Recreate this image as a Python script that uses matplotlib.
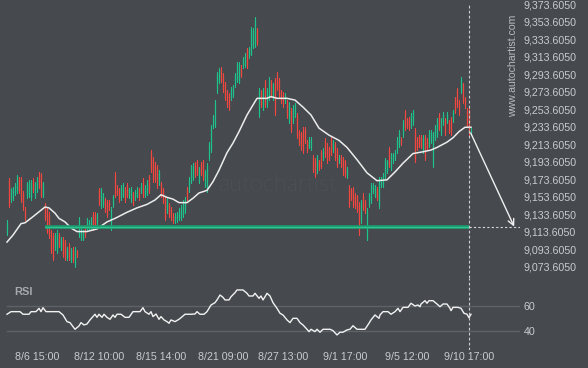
import matplotlib
matplotlib.use("Agg")
import matplotlib.pyplot as plt
from matplotlib.patches import FancyBboxPatch

plt.rcParams['font.family'] = ['Liberation Sans', 'DejaVu Sans']

# ---------------- data ----------------
opens = [9112, 9173, 9150, 9152, 9158, 9160, 9174, 9174, 9158, 9140, 9154, 9155, 9152, 9173, 9154, 9161, 9180, 9179, 9155, 9145,
         9140, 9134, 9114, 9110, 9095, 9092, 9110, 9095, 9106, 9102, 9084, 9099, 9081, 9094, 9076, 9091, 9110, 9106, 9106, 9120,
         9118, 9118, 9118, 9134, 9134, 9124, 9162, 9143, 9144, 9150, 9148, 9148, 9118, 9144, 9180, 9165, 9162, 9152, 9155, 9163,
         9167, 9154, 9150, 9157, 9152, 9155, 9162, 9160, 9173, 9155, 9158, 9177, 9205, 9197, 9191, 9188, 9169, 9169, 9162, 9151,
         9137, 9145, 9140, 9133, 9126, 9127, 9129, 9129, 9133, 9137, 9163, 9161, 9171, 9175, 9191, 9194, 9171, 9191, 9194, 9167,
         9161, 9198, 9207, 9234, 9235, 9274, 9286, 9300, 9293, 9283, 9274, 9270, 9266, 9270, 9281, 9287, 9285, 9302, 9303, 9304,
         9321, 9314, 9317, 9325, 9327, 9344, 9247, 9274, 9255, 9285, 9258, 9266, 9285, 9266, 9287, 9294, 9287, 9274, 9271, 9263,
         9262, 9240, 9253, 9240, 9247, 9247, 9228, 9226, 9231, 9231, 9217, 9211, 9209, 9199, 9196, 9183, 9194, 9205, 9198, 9219,
         9213, 9208, 9220, 9207, 9214, 9207, 9194, 9199, 9197, 9194, 9177, 9165, 9162, 9163, 9156, 9154, 9146, 9126, 9156, 9148,
         9106, 9144, 9149, 9160, 9155, 9163, 9143, 9167, 9167, 9177, 9183, 9208, 9186, 9194, 9198, 9206, 9212, 9220, 9224, 9251,
         9242, 9243, 9234, 9238, 9230, 9220, 9222, 9222, 9206, 9222, 9219, 9212, 9217, 9190, 9220, 9224, 9247, 9226, 9238, 9242,
         9240, 9239, 9243, 9241, 9266, 9276, 9262, 9274, 9282, 9266, 9253, 9253, 9226]
highs = [9127, 9175, 9164, 9165, 9169, 9179, 9176, 9176, 9160, 9142, 9171, 9173, 9173, 9175, 9171, 9176, 9182, 9181, 9171, 9147,
         9142, 9136, 9116, 9112, 9112, 9116, 9112, 9108, 9108, 9104, 9096, 9101, 9095, 9096, 9096, 9093, 9131, 9118, 9116, 9122,
         9130, 9127, 9131, 9136, 9136, 9135, 9164, 9164, 9158, 9152, 9150, 9150, 9142, 9156, 9182, 9167, 9164, 9167, 9169, 9165,
         9169, 9164, 9165, 9159, 9161, 9165, 9164, 9169, 9175, 9167, 9173, 9179, 9207, 9199, 9193, 9190, 9184, 9171, 9164, 9153,
         9152, 9147, 9142, 9135, 9135, 9136, 9141, 9144, 9150, 9153, 9165, 9176, 9190, 9192, 9193, 9196, 9188, 9193, 9196, 9184,
         9192, 9216, 9236, 9247, 9264, 9296, 9301, 9302, 9295, 9285, 9276, 9272, 9279, 9281, 9295, 9307, 9307, 9304, 9313, 9318,
         9323, 9325, 9347, 9346, 9359, 9346, 9278, 9276, 9278, 9287, 9278, 9290, 9287, 9284, 9289, 9296, 9289, 9276, 9273, 9272,
         9264, 9262, 9255, 9258, 9261, 9249, 9230, 9228, 9233, 9233, 9219, 9222, 9222, 9201, 9198, 9201, 9196, 9207, 9209, 9221,
         9215, 9210, 9222, 9218, 9216, 9209, 9201, 9201, 9199, 9196, 9188, 9167, 9164, 9165, 9158, 9156, 9148, 9150, 9158, 9150,
         9141, 9158, 9169, 9169, 9167, 9165, 9176, 9176, 9181, 9198, 9196, 9210, 9204, 9204, 9207, 9222, 9230, 9222, 9241, 9253,
         9244, 9245, 9249, 9253, 9232, 9222, 9224, 9224, 9224, 9224, 9221, 9230, 9230, 9228, 9236, 9244, 9249, 9244, 9250, 9244,
         9250, 9241, 9245, 9253, 9268, 9278, 9264, 9290, 9284, 9268, 9255, 9255, 9232]
lows = [9110, 9142, 9148, 9150, 9156, 9158, 9158, 9148, 9139, 9127, 9152, 9153, 9150, 9159, 9152, 9159, 9164, 9153, 9153, 9127,
        9112, 9107, 9090, 9082, 9093, 9090, 9096, 9093, 9085, 9082, 9082, 9082, 9079, 9079, 9074, 9085, 9108, 9104, 9104, 9108,
        9116, 9116, 9116, 9116, 9119, 9122, 9144, 9141, 9142, 9136, 9131, 9139, 9116, 9142, 9153, 9156, 9148, 9150, 9153, 9148,
        9153, 9152, 9148, 9144, 9150, 9153, 9150, 9158, 9153, 9153, 9156, 9158, 9182, 9171, 9171, 9164, 9167, 9153, 9147, 9127,
        9135, 9131, 9127, 9124, 9124, 9125, 9127, 9127, 9131, 9135, 9150, 9159, 9169, 9173, 9176, 9179, 9169, 9179, 9173, 9165,
        9159, 9196, 9205, 9232, 9233, 9272, 9284, 9285, 9273, 9264, 9256, 9253, 9264, 9268, 9279, 9285, 9283, 9290, 9301, 9302,
        9301, 9312, 9315, 9323, 9325, 9327, 9245, 9256, 9253, 9256, 9256, 9264, 9268, 9264, 9247, 9276, 9268, 9261, 9256, 9261,
        9244, 9238, 9228, 9238, 9245, 9221, 9213, 9207, 9204, 9215, 9205, 9209, 9207, 9182, 9176, 9181, 9184, 9186, 9196, 9199,
        9192, 9196, 9201, 9205, 9196, 9188, 9192, 9188, 9179, 9176, 9175, 9142, 9150, 9142, 9141, 9136, 9110, 9124, 9139, 9135,
        9104, 9142, 9147, 9158, 9153, 9150, 9141, 9165, 9165, 9175, 9181, 9188, 9184, 9192, 9196, 9204, 9210, 9213, 9222, 9230,
        9232, 9230, 9232, 9236, 9193, 9207, 9210, 9209, 9204, 9196, 9207, 9210, 9215, 9188, 9218, 9222, 9230, 9224, 9236, 9224,
        9238, 9226, 9224, 9239, 9249, 9256, 9247, 9272, 9261, 9255, 9233, 9224, 9224]
closes = [9125, 9144, 9162, 9163, 9167, 9177, 9160, 9150, 9141, 9129, 9169, 9171, 9171, 9161, 9169, 9174, 9166, 9155, 9169, 9129,
          9114, 9109, 9092, 9084, 9110, 9114, 9098, 9106, 9087, 9084, 9094, 9084, 9093, 9081, 9094, 9087, 9129, 9116, 9114, 9110,
          9128, 9125, 9129, 9118, 9121, 9133, 9146, 9162, 9156, 9138, 9133, 9141, 9140, 9154, 9155, 9158, 9150, 9165, 9167, 9150,
          9155, 9162, 9163, 9146, 9159, 9163, 9152, 9167, 9155, 9165, 9171, 9160, 9184, 9173, 9173, 9166, 9182, 9155, 9149, 9129,
          9150, 9133, 9129, 9126, 9133, 9134, 9139, 9142, 9148, 9151, 9152, 9174, 9188, 9190, 9178, 9181, 9186, 9181, 9175, 9182,
          9190, 9214, 9234, 9245, 9262, 9294, 9299, 9287, 9275, 9266, 9258, 9255, 9277, 9279, 9293, 9305, 9305, 9292, 9311, 9316,
          9303, 9323, 9345, 9344, 9357, 9329, 9276, 9258, 9276, 9258, 9276, 9288, 9270, 9282, 9249, 9278, 9270, 9263, 9258, 9270,
          9246, 9260, 9230, 9256, 9259, 9223, 9215, 9209, 9206, 9217, 9207, 9220, 9220, 9184, 9178, 9199, 9186, 9188, 9207, 9201,
          9194, 9198, 9203, 9216, 9198, 9190, 9199, 9190, 9181, 9178, 9186, 9144, 9152, 9144, 9143, 9138, 9112, 9148, 9141, 9137,
          9139, 9156, 9167, 9167, 9165, 9152, 9174, 9174, 9179, 9196, 9194, 9190, 9202, 9202, 9205, 9220, 9228, 9215, 9239, 9232,
          9234, 9232, 9247, 9251, 9195, 9209, 9212, 9211, 9222, 9198, 9209, 9228, 9228, 9226, 9234, 9242, 9232, 9242, 9248, 9226,
          9248, 9228, 9226, 9251, 9251, 9258, 9249, 9288, 9263, 9257, 9235, 9226, 9230]

ma_idx = [0, 3, 7, 9, 13, 19, 21, 24, 26, 29, 32, 35, 40, 45, 50, 54, 60, 65, 70, 74, 77, 80, 83, 86, 90, 93, 96, 100,
          103, 106, 110, 113, 116, 120, 125, 130, 132, 135, 140, 144, 148, 152, 156, 161, 166, 170, 175, 180, 185, 190,
          194, 198, 203, 208, 212, 215, 220, 223, 226, 229, 232]
ma_vals = [9102, 9110, 9123, 9124, 9131, 9142, 9141, 9135, 9129, 9125, 9118, 9114, 9114, 9117, 9125, 9129, 9136, 9141,
           9145, 9150, 9156, 9153, 9151, 9147, 9147, 9152, 9158, 9161, 9171, 9184, 9204, 9215, 9228, 9247, 9266, 9266,
           9268, 9266, 9266, 9264, 9256, 9247, 9232, 9224, 9218, 9210, 9196, 9181, 9172, 9173, 9182, 9192, 9203, 9205,
           9207, 9210, 9216, 9221, 9228, 9233, 9233]

rsi_idx = [0, 2, 6.5, 8, 11, 12, 14.5, 16, 17, 18, 19.5, 26, 28, 30, 31.5, 33, 34, 36, 37, 38.5, 40, 41.5, 43, 44, 45, 46,
           47.5, 48.5, 50, 51.5, 53, 54, 55, 57, 59, 61, 63, 66.5, 68, 69, 71, 72, 73, 74.5, 76, 77, 78.5, 80, 81, 82, 84,
           86, 87, 89, 92, 94, 95, 96.5, 98.5, 100, 101, 102, 104, 105, 106.5, 108, 109, 111, 112, 114, 115, 118, 120,
           121, 123, 124, 126, 127, 128, 129, 130, 131.5, 133, 135, 136.5, 138, 140, 141.5, 143, 145, 146.5, 148, 150,
           151, 152, 154, 155, 156.5, 158, 161.5, 163, 165, 166.5, 168, 170, 171.5, 173, 175, 179, 181, 182, 184, 185,
           186, 186.5, 188, 190.5, 192, 194, 195.5, 196.5, 198, 200.5, 202, 204, 205.5, 206.5, 207, 209, 210, 211, 213,
           215, 216.5, 218, 220, 221.5, 222, 223, 225.5, 227, 228.5, 230, 231, 232]
rsi_vals = [53.3, 55.4, 55.4, 53.3, 53.3, 55.4, 55.4, 58.1, 55.4, 58.6, 55.4, 55.4, 52.7, 47.3, 46.5, 43.3, 41.1, 43.8,
            46.5, 44.6, 45.4, 48.7, 51.4, 53.3, 50.8, 53.3, 50.8, 53.3, 50.8, 49.2, 52.7, 50.8, 53.3, 53.3, 50.8, 50.8,
            55.4, 55.4, 58.6, 55.4, 53.3, 55.4, 51.4, 53.5, 49.2, 51.4, 48.7, 47.3, 46.0, 48.7, 47.3, 49.2, 50.5, 53.3,
            53.3, 53.5, 55.4, 53.3, 53.3, 55.4, 58.1, 60.8, 62.7, 64.9, 68.9, 67.0, 64.9, 64.9, 67.5, 70.8, 73.0, 73.0,
            70.3, 68.1, 68.1, 70.3, 66.2, 68.1, 64.9, 67.5, 70.3, 68.1, 62.7, 58.1, 54.1, 52.7, 48.7, 46.5, 50.0, 50.0,
            46.5, 44.6, 41.1, 39.2, 41.1, 39.2, 41.1, 38.7, 41.1, 41.1, 40.0, 36.5, 38.7, 38.7, 40.6, 41.1, 44.0, 41.1,
            41.1, 46.0, 48.7, 52.7, 51.4, 50.0, 52.7, 55.4, 55.4, 53.3, 55.4, 58.1, 55.4, 58.9, 58.9, 62.2, 60.0, 60.8,
            59.4, 61.6, 64.3, 62.2, 64.3, 64.3, 61.6, 59.4, 61.6, 61.6, 58.1, 56.2, 58.9, 58.9, 58.1, 54.1, 53.3, 50.5,
            53.3]

support_start, support_end = 19, 231
support_level = 9119.2
now_idx = 231
arrow_from = (231.85, 9226.5)
arrow_to = (253.6, 9119.6)

price_ticks = [9073.605 + 20 * k for k in range(16)]
rsi_ticks = [40, 60]
x_tick_idx = [15, 46, 77, 108, 138, 169, 200, 231]
x_tick_labels = ["8/6 15:00", "8/12 10:00", "8/15 14:00", "8/21 09:00",
                 "8/27 13:00", "9/1 17:00", "9/5 12:00", "9/10 17:00"]

# ---------------- styling ----------------
BG = '#46494d'
UP = '#1ec28b'
DN = '#f2473f'
TXT = '#c9cbce'
W, H = 588, 368

fig = plt.figure(figsize=(W / 100, H / 100), dpi=100, facecolor=BG)


def fx(px):
    return px / W


def fy(py):
    return 1 - py / H


ax = fig.add_axes([0, fy(278), 520 / W, 278 / H], facecolor=BG)
ax2 = fig.add_axes([0, fy(350), 520 / W, 72 / H], facecolor=BG)

for a in (ax, ax2):
    for s in a.spines.values():
        s.set_visible(False)
    a.set_xlim(-3.5, 256.5)

ax.set_ylim(9061.0, 9378.2)
ax2.set_ylim(24.3, 82.7)

# candles
idx = list(range(len(opens)))
cols = [UP if c >= o else DN for o, c in zip(opens, closes)]
ax.vlines(idx, lows, highs, colors=cols, linewidth=0.72, zorder=3, antialiased=False)
ax.vlines(idx, [min(o, c) for o, c in zip(opens, closes)],
          [max(o, c) for o, c in zip(opens, closes)], colors=cols, linewidth=0.9, zorder=3)

# moving average
ax.plot(ma_idx, ma_vals, color='#ececec', lw=1.1, zorder=4)

# support line
ax.hlines(support_level, support_start, support_end, colors='#1b9a6e', lw=2.6, zorder=5)
ax.hlines(support_level, support_start, support_end, colors='#2dc490', lw=1.0, zorder=5)
ax.hlines(support_level, support_end, 256.5, colors='#d8d8d8', lw=0.8,
          linestyles=(0, (2, 2)), zorder=5)

# forecast arrow
ax.annotate('', xy=arrow_to, xytext=arrow_from,
            arrowprops=dict(arrowstyle='->', color='#f0f0f0', lw=1.0, mutation_scale=11,
                            shrinkA=0, shrinkB=0), zorder=6)

# now line
ax.axvline(now_idx, ymin=0, ymax=1 - 4 / 278, color='#d0d0d0', lw=0.8, ls=(0, (2.5, 2)), zorder=6)
ax2.axvline(now_idx, color='#d0d0d0', lw=0.8, ls=(0, (2.5, 2)), zorder=6)

# price axis
ax.yaxis.tick_right()
ax.set_yticks(price_ticks)
ax.set_yticklabels([f"{v:,.4f}" for v in price_ticks])
ax.tick_params(axis='y', length=0, pad=2.5, labelsize=7.7, labelcolor=TXT)
ax.set_xticks([])

# RSI panel
for v in rsi_ticks:
    ax2.axhline(v, xmin=(0 + 3.5) / 260, xmax=1, color='#5f6267', lw=1.0, zorder=1)
ax2.plot(rsi_idx, rsi_vals, color='#f2f2f2', lw=1.0, zorder=4)
ax2.yaxis.tick_right()
ax2.set_yticks(rsi_ticks)
ax2.set_yticklabels([str(v) for v in rsi_ticks])
ax2.tick_params(axis='y', length=0, pad=2.5, labelsize=7.7, labelcolor=TXT)
ax2.set_xticks(x_tick_idx)
ax2.set_xticklabels(x_tick_labels)
ax2.tick_params(axis='x', length=0, pad=1.5, labelsize=7.7, labelcolor=TXT)

fig.text(fx(14), fy(292), 'RSI', fontsize=8, fontweight='bold', color='#a6a9ae', va='center', ha='left')

# watermarks
fig.text(fx(513), fy(66), 'www.autochartist.com', rotation=90, fontsize=7.6, color='#b8bbbf',
         ha='center', va='center')
fig.text(fx(278), fy(185), 'autochartist', fontsize=17, color='#5b5e63', ha='center', va='center',
         family=['Lato', 'DejaVu Sans'], fontweight='light', zorder=0)
logo = [(184, 184, 6), (195, 175, 8), (202, 172, 6), (208, 170, 10), (218, 163, 10), (227, 167, 6), (233, 158, 8)]
for lx, ly, lh in logo:
    fig.add_artist(FancyBboxPatch((fx(lx), fy(ly + lh)), 3 / W, lh / H,
                                  boxstyle='round,pad=0,rounding_size=0.003',
                                  transform=fig.transFigure, facecolor='#5b5e63', edgecolor='none', zorder=0))

fig.savefig('out.png', dpi=100, facecolor=BG)
